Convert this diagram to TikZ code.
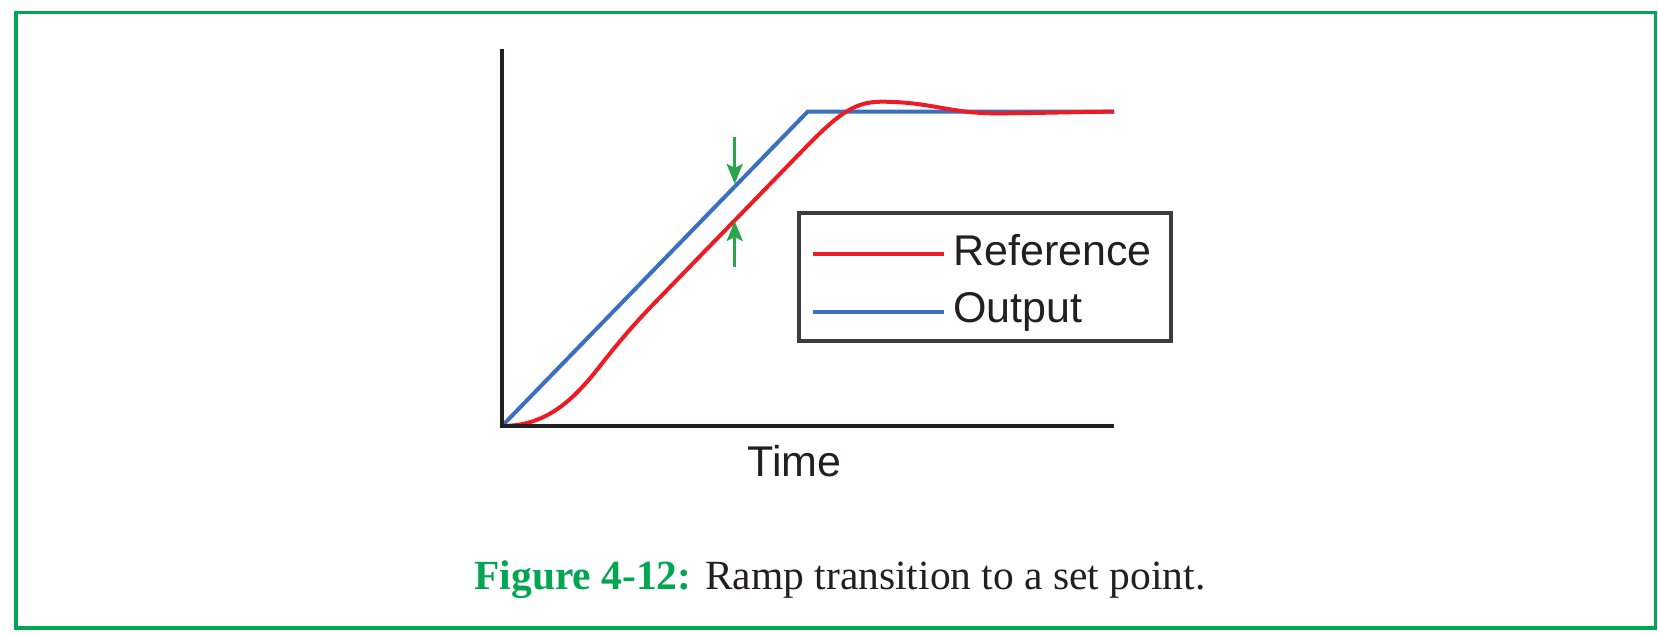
\documentclass[tikz,border=0pt]{standalone}
\usepackage{fontspec}
\setmainfont{Liberation Serif}
\setsansfont{Liberation Sans}
\usetikzlibrary{arrows.meta}
\definecolor{framegreen}{RGB}{0,166,81}
\definecolor{arrowgreen}{RGB}{44,166,74}
\definecolor{refred}{RGB}{237,28,36}
\definecolor{outblue}{RGB}{59,112,192}
\definecolor{axisblack}{RGB}{35,31,32}
\definecolor{boxgray}{RGB}{60,60,60}
\tikzstyle{axisline} = [draw=axisblack, line width=2.3pt]
\tikzstyle{refline} = [draw=refred, line width=2pt]
\tikzstyle{outline} = [draw=outblue, line width=2pt]
\tikzstyle{gap} = [draw=arrowgreen, line width=1.5pt, -{Stealth[length=10pt,width=8pt,inset=2pt]}]
\tikzstyle{legendbox} = [draw=boxgray, line width=2pt]
\tikzstyle{plotlabel} = [inner sep=0pt, anchor=base west, text=axisblack, font=\sffamily\fontsize{21.5}{26}\selectfont]
\tikzstyle{captiontext} = [inner sep=0pt, anchor=base west, text=axisblack, font=\fontsize{20.75}{25}\selectfont]

\begin{document}
\begin{tikzpicture}[x=0.5pt, y=-0.5pt]
	\useasboundingbox (0,0) rectangle (1658,636);
	% frame
	\draw [draw=framegreen, line width=1.75pt] (15.8,12.7) rectangle (1655.5,628);

	% place points
	\coordinate (top)    at (502,48.6);
	\coordinate (origin) at (502,426);
	\coordinate (right)  at (1114,426);
	\coordinate (corner) at (807.6,111.7);
	\coordinate (settle) at (1114,111.7);

	% output ramp
	\path [outline] (origin) -- (corner) -- (settle);
	% reference response
	\path [refline] (origin) .. controls (545,426) and (572,402) .. (600,366)
		.. controls (618,343) and (633,325.2) .. (655,302.5)
		-- (800,153.2) .. controls (835,117.2) and (852,101.7) .. (881,101.7)
		.. controls (930,101.7) and (950,113.3) .. (994.5,113.3)
		.. controls (1040,113.3) and (1080,111.7) .. (settle);
	% axes
	\path [axisline] (top) -- (origin) -- (right);
	\node [plotlabel] (time) at (747,476) {Time};

	% gap arrows
	\coordinate (downtail) at (734.7,137.3);
	\coordinate (downtip)  at (734.7,184);
	\coordinate (uptail)   at (734.7,267);
	\coordinate (uptip)    at (734.7,221);
	\path [gap] (downtail) -- (downtip);
	\path [gap] (uptail) -- (uptip);

	% legend
	\path [legendbox] (799,213) rectangle (1170.5,341);
	\coordinate (refkeyA) at (813,254);
	\coordinate (refkeyB) at (944,254);
	\coordinate (outkeyA) at (813,312.3);
	\coordinate (outkeyB) at (944,312.3);
	\path [refline] (refkeyA) -- (refkeyB);
	\path [outline] (outkeyA) -- (outkeyB);
	\node [plotlabel] (ref) at (953,265)   {Reference};
	\node [plotlabel] (out) at (953,322.5) {Output};

	% caption
	\node [captiontext] (caption) at (474,589)
		{\textcolor{framegreen}{\textbf{Figure 4-12:}} Ramp transition to a set point.};
\end{tikzpicture}
\end{document}
